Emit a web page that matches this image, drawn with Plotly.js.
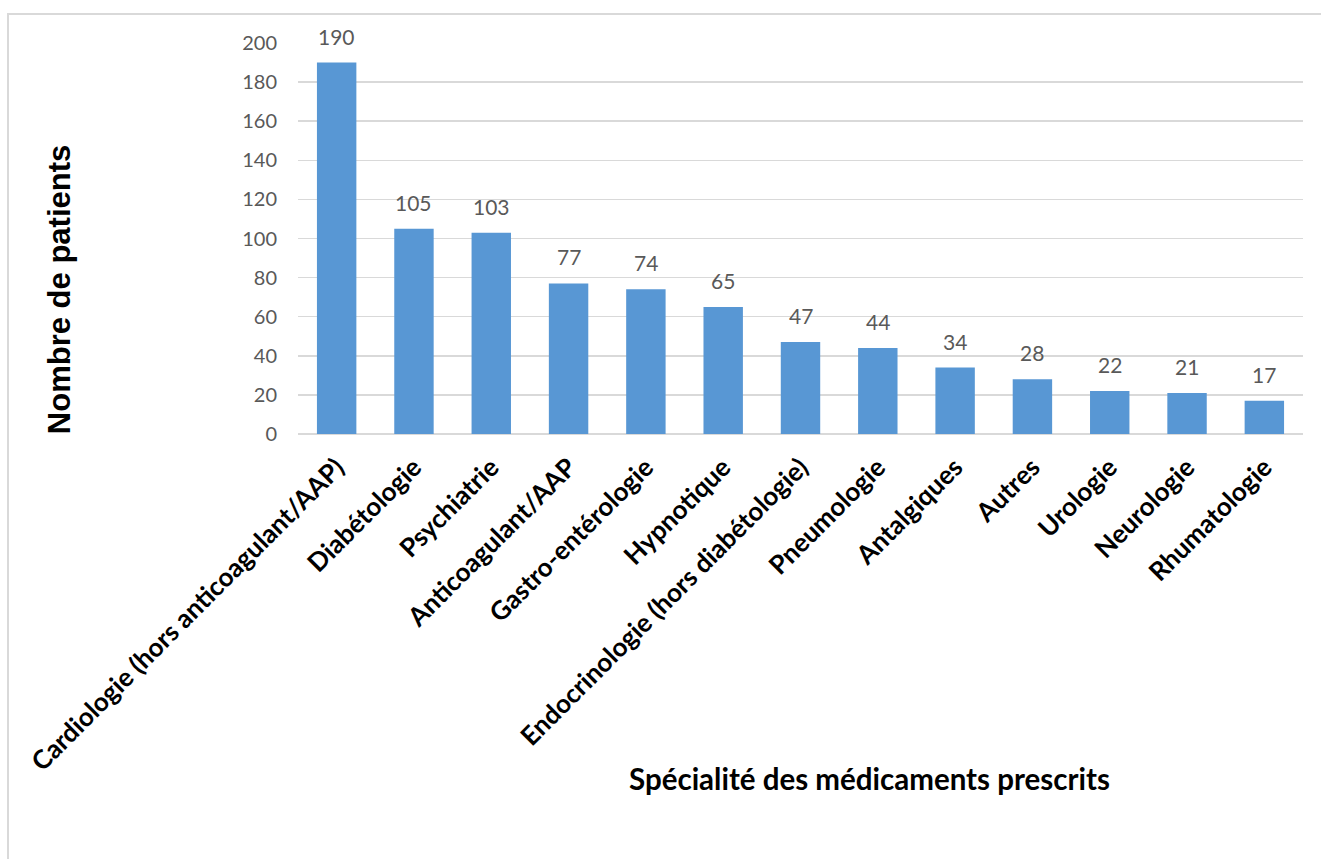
<!DOCTYPE html>
<html>
<head>
<meta charset="utf-8">
<script src="https://cdn.plot.ly/plotly-3.0.1.min.js"></script>
<style>
  html, body { margin: 0; padding: 0; background: #fff; }
  #wrap { position: relative; width: 1321px; height: 859px; }
  #chart { width: 1321px; height: 859px; }
  #frame { position: absolute; left: 7px; top: 13px; width: 1330px; height: 860px;
           border: 2px solid #d9d9d9; pointer-events: none; box-sizing: border-box; }
</style>
</head>
<body>
<div id="wrap">
  <div id="chart"></div>
  <div id="frame"></div>
</div>
<script>
const categories = [
  "Cardiologie (hors anticoagulant/AAP)",
  "Diabétologie",
  "Psychiatrie",
  "Anticoagulant/AAP",
  "Gastro-entérologie",
  "Hypnotique",
  "Endocrinologie (hors diabétologie)",
  "Pneumologie",
  "Antalgiques",
  "Autres",
  "Urologie",
  "Neurologie",
  "Rhumatologie"
];
const patients = [190, 105, 103, 77, 74, 65, 47, 44, 34, 28, 22, 21, 17];
const yTickValues = [0, 20, 40, 60, 80, 100, 120, 140, 160, 180, 200];

const trace = {
  type: 'bar',
  x: categories,
  y: patients,
  marker: { color: '#5897d4', line: { width: 0 } },
  hoverinfo: 'x+y'
};

const valueLabels = categories.map((c, i) => ({
  x: c, y: patients[i], xref: 'x', yref: 'y',
  text: String(patients[i]), showarrow: false,
  yanchor: 'bottom', yshift: 12,
  font: { family: 'Lato, "Open Sans", sans-serif', size: 21, color: '#595959' }
}));

const layout = {
  width: 1321, height: 859,
  margin: { l: 298, r: 18, t: 43, b: 425 },
  paper_bgcolor: '#ffffff', plot_bgcolor: '#ffffff',
  showlegend: false,
  bargap: 0.49,
  xaxis: {
    type: 'category',
    tickangle: -45,
    tickfont: { family: 'Lato, "Open Sans", sans-serif', size: 26, color: '#000000', weight: 'bold' },
    ticklabelstandoff: 12,
    showgrid: false,
    showline: false,
    ticks: '',
    automargin: false
  },
  yaxis: {
    range: [0, 200],
    tickvals: yTickValues,
    ticktext: yTickValues.map(String),
    tickfont: { family: 'Lato, "Open Sans", sans-serif', size: 20, color: '#595959' },
    showgrid: true, gridcolor: '#d9d9d9', gridwidth: 1.5,
    zeroline: true, zerolinecolor: '#d9d9d9', zerolinewidth: 1.5,
    showline: false, ticks: '',
    ticklabelstandoff: 20,
    automargin: false,
    fixedrange: true
  },
  annotations: valueLabels.concat([
    {
      text: 'Nombre de patients', xref: 'paper', yref: 'paper',
      x: -0.237, y: 0.37, textangle: -90, showarrow: false,
      xanchor: 'center', yanchor: 'middle',
      font: { family: '"Liberation Sans", Arial, sans-serif', size: 31, color: '#000000', weight: 'bold' }
    },
    {
      text: 'Spécialité des médicaments prescrits', xref: 'paper', yref: 'paper',
      x: 0.569, y: -0.88, showarrow: false,
      xanchor: 'center', yanchor: 'middle',
      font: { family: 'Lato, "Open Sans", sans-serif', size: 29.5, color: '#000000', weight: 'bold' }
    }
  ])
};

Plotly.newPlot('chart', [trace], layout, { displayModeBar: false, staticPlot: true });
</script>
</body>
</html>
